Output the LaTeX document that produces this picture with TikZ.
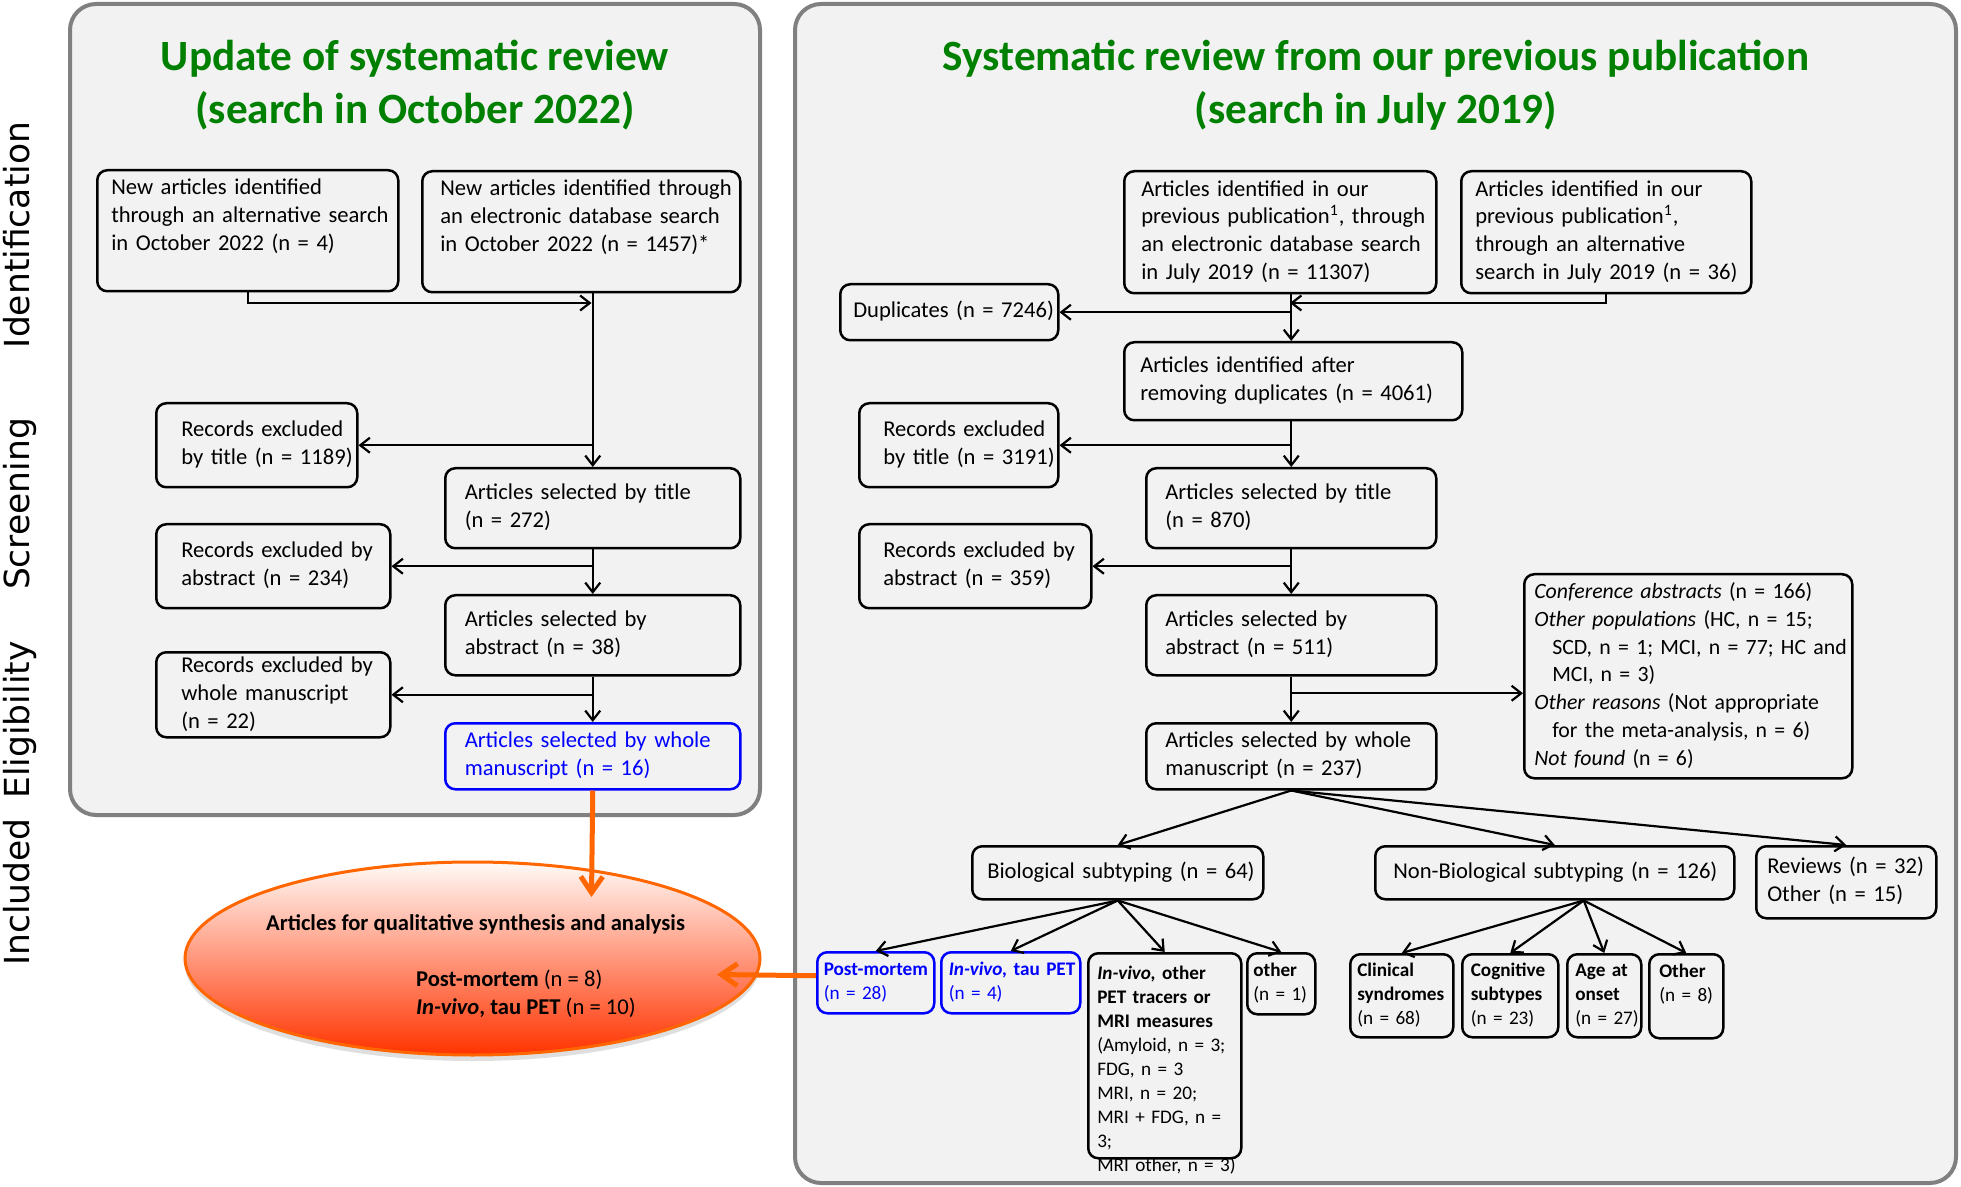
\documentclass[tikz,border=0pt]{standalone}
\usepackage{fontspec}
\setmainfont{Carlito}
\newfontfamily\stagefont{DejaVu Sans}
\usetikzlibrary{arrows.meta,shapes.geometric,shadows}
\definecolor{pfill}{RGB}{242,242,242}
\definecolor{pborder}{RGB}{128,128,128}
\definecolor{tgreen}{RGB}{0,128,0}
\definecolor{oline}{RGB}{255,102,0}
\definecolor{ebottom}{RGB}{255,51,0}
\definecolor{emid}{RGB}{255,165,125}
\definecolor{etop}{RGB}{255,250,247}
\newdimen\px \px=0.5pt
\newdimen\bxw \newdimen\bxh
\newcommand\msize{\fontsize{11.3}{13.9}\selectfont}
\newcommand\csize{\fontsize{10.9}{13.9}\selectfont}
\newcommand\ssize{\fontsize{9.6}{12}\selectfont}
\newcommand\tlines[2][c]{\begin{tabular}[#1]{@{}l@{}}#2\end{tabular}}
% opts, name, x, y, w, h, pad(pt), text
\newcommand\bnode[8][]{%
  \bxw=\dimexpr#5\px-#7pt*2\relax
  \bxh=#6\px
  \node[bx,#1,inner xsep=#7pt,text width=\bxw,minimum height=\bxh] (#2) at (#3,#4) {#8};}
\tikzset{
 panel/.style={draw=pborder, fill=pfill, line width=2pt, rounded corners=13pt},
 bx/.style={draw, line width=1.25pt, rounded corners=5pt, anchor=north west, inner ysep=0pt, font=\msize, align=left},
 bbx/.style={draw=blue, text=blue},
 sm/.style={font=\ssize},
 cf/.style={font=\csize},
 ttl/.style={font=\fontsize{21.6}{26.5}\selectfont\bfseries, text=tgreen, align=center, inner sep=0pt},
 stage/.style={rotate=90, anchor=base, font=\stagefont\fontsize{17.25}{20}\selectfont, inner sep=0pt},
 arr/.style={-{Straight Barb[length=4.8pt,width=7.5pt]}, line width=1.1pt},
 oarr/.style={-{Straight Barb[length=8pt,width=11pt]}, line width=2.5pt, draw=oline},
 ellsty/.style={ellipse, draw=oline, line width=1.5pt, top color=etop, middle color=emid, bottom color=ebottom, minimum width=287.5pt, minimum height=96.5pt, inner sep=0pt, drop shadow={shadow xshift=0pt, shadow yshift=-3pt, opacity=0.25}},
}
\begin{document}
\begin{tikzpicture}[x=0.5pt,y=-0.5pt]
\useasboundingbox (0,0) rectangle (1961,1187);
\fill[white] (0,0) rectangle (1961,1187);
% panels
\draw[panel] (70,4) rectangle (760,815);
\draw[panel] (795,4) rectangle (1956,1183);
% titles
\node[ttl] (t1) at (415,85) {Update of systematic review\\(search in October 2022)};
\node[ttl] (t2) at (1376,85) {Systematic review from our previous publication\\(search in July 2019)};
% stage labels
\node[stage] (s1) at (29,235) {Identification};
\node[stage] (s2) at (29,504) {Screening};
\node[stage] (s3) at (29,720) {Eligibility};
\node[stage] (s4) at (29,892) {Included};
% left panel boxes
\bnode{newalt}{96}{169}{301}{121}{7}{\tlines{New articles identified\\through an alternative search\\in October 2022 (n = 4)\\~}}
\bnode{newdb}{421}{170}{318}{121}{9}{\tlines{New articles identified through\\an electronic database search\\in October 2022 (n = 1457)*\\~}}
\bnode{exT}{155}{402}{201}{84}{12.5}{\tlines{Records excluded\\by title (n = 1189)}}
\bnode{selT}{444}{467}{295}{80}{9.75}{\tlines{Articles selected by title\\(n = 272)}}
\bnode{exA}{155}{523}{234}{84}{12.5}{\tlines{Records excluded by\\abstract (n = 234)}}
\bnode{selA}{444}{594}{295}{80}{9.75}{\tlines{Articles selected by\\abstract (n = 38)}}
\bnode{exW}{155}{651}{234}{85}{12.5}{\tlines{Records excluded by\\whole manuscript\\(n = 22)}}
\bnode[bbx]{selW}{444}{722}{295}{66}{9.75}{\tlines{Articles selected by whole\\manuscript (n = 16)}}
% right panel boxes
\bnode{r1}{1123}{170}{312}{122}{8.5}{\tlines{Articles identified in our\\previous publication\textsuperscript{1}, through\\an electronic database search\\in July 2019 (n = 11307)}}
\bnode{r2}{1460}{170}{290}{122}{7}{\tlines{Articles identified in our\\previous publication\textsuperscript{1},\\through an alternative\\search in July 2019 (n = 36)}}
\bnode{dup}{839}{283}{218}{56}{6.5}{\tlines{Duplicates (n = 7246)}}
\bnode{rdd}{1123}{341}{338}{78}{8}{\tlines{Articles identified after\\removing duplicates (n = 4061)}}
\bnode{rexT}{858}{402}{199}{84}{12}{\tlines{Records excluded\\by title (n = 3191)}}
\bnode{rselT}{1145}{467}{290}{80}{9.5}{\tlines{Articles selected by title\\(n = 870)}}
\bnode{rexA}{858}{523}{232}{84}{12}{\tlines{Records excluded by\\abstract (n = 359)}}
\bnode{rselA}{1145}{594}{290}{80}{9.5}{\tlines{Articles selected by\\abstract (n = 511)}}
\bnode[cf]{conf}{1523}{573}{328}{204}{5}{\tlines{\textit{Conference abstracts} (n = 166)\\
\textit{Other populations} (HC, n = 15;\\
\hspace*{9pt}SCD, n = 1; MCI, n = 77; HC and\\
\hspace*{9pt}MCI, n = 3)\\
\textit{Other reasons} (Not appropriate\\
\hspace*{9pt}for the meta-analysis, n = 6)\\
\textit{Not found} (n = 6)}}
\bnode{rselW}{1145}{722}{290}{66}{9.5}{\tlines{Articles selected by whole\\manuscript (n = 237)}}
\bnode{bio}{971}{845}{291}{53}{7.5}{\tlines{Biological subtyping (n = 64)}}
\bnode{nonbio}{1374}{845}{359}{53}{9}{\tlines{Non-Biological subtyping (n = 126)}}
\bnode{rev}{1755}{845}{180}{72}{5.5}{\tlines{Reviews (n = 32)\\Other (n = 15)}}
\bnode[bbx,sm]{pm}{816}{951}{117}{61}{3.25}{\tlines{\textbf{Post-mortem}\\(n = 28)}}
\bnode[bbx,sm]{tau}{940}{951}{139}{61}{3.75}{\tlines{\textbf{\textit{In-vivo,} tau PET}\\(n = 4)}}
\bnode[sm]{oth}{1087}{952}{153}{205}{4.5}{\raisebox{0pt}[13pt][89.5pt]{\tlines[t]{\textbf{\textit{In-vivo,} other}\\\textbf{PET tracers or}\\\textbf{MRI measures}\\(Amyloid, n = 3;\\FDG, n = 3\\MRI, n = 20;\\MRI + FDG, n =\\3;\\MRI other, n = 3)}}}
\bnode[sm]{othr}{1246}{952}{68}{61}{3}{\tlines{\textbf{other}\\(n = 1)}}
\bnode[sm]{cs}{1349}{953}{103}{83}{3.5}{\tlines{\textbf{Clinical}\\\textbf{syndromes}\\(n = 68)}}
\bnode[sm]{cog}{1461}{953}{96}{83}{4.25}{\tlines{\textbf{Cognitive}\\\textbf{subtypes}\\(n = 23)}}
\bnode[sm]{age}{1566}{953}{74}{83}{4}{\tlines{\textbf{Age at}\\\textbf{onset}\\(n = 27)}}
\bnode[sm]{oth8}{1648}{953}{74}{84}{5}{\tlines{\textbf{Other}\\(n = 8)\\~}}
% ellipse
\node[ellsty] (ell) at (472.5,958.5) {};
\node[font=\msize, inner sep=0pt] (ellt) at ([xshift=1.5pt,yshift=-4.25pt]ell.center) {\begin{tabular}{@{}l@{}}\multicolumn{1}{@{}c@{}}{\textbf{Articles for qualitative synthesis and analysis}}\\ ~\\ \hspace*{75pt}\textbf{Post-mortem} (n = 8)\\ \hspace*{75pt}\textbf{\textit{In-vivo}, tau PET} (n = 10)\end{tabular}};
% left connectors
\coordinate (jL) at (591.5,303);
\draw[arr] (newalt.south) |- (jL);
\draw[arr] (newdb.south -| selT.north) -- (selT.north);
\draw[arr] (selT.north |- exT.east) -- (exT.east);
\draw[arr] (selT.south) -- (selA.north);
\draw[arr] (selA.north |- exA.east) -- (exA.east);
\draw[arr] (selA.south) -- (selW.north);
\draw[arr] (selW.north |- exW.east) -- (exW.east);
% right connectors
\coordinate (jR) at (1290,303);
\draw[arr] (r1.south -| rselT.north) -- (rdd.north -| rselT.north);
\draw[arr] (r2.south) |- (jR);
\draw[arr] (rselT.north |- dup.east) -- (dup.east);
\draw[arr] (rdd.south -| rselT.north) -- (rselT.north);
\draw[arr] (rselT.north |- rexT.east) -- (rexT.east);
\draw[arr] (rselT.south) -- (rselA.north);
\draw[arr] (rselA.north |- rexA.east) -- (rexA.east);
\draw[arr] (rselA.south) -- (rselW.north);
\coordinate (cw) at ([yshift=-8.5pt]conf.west);
\draw[arr] (rselA.south |- cw) -- (cw);
\draw[arr] (rselW.south) -- (bio.north);
\draw[arr] (rselW.south) -- (nonbio.north);
\draw[arr] (rselW.south) -- (rev.north);
\draw[arr] (bio.south) -- (pm.north);
\draw[arr] (bio.south) -- (tau.north);
\draw[arr] (bio.south) -- (oth.north);
\draw[arr] (bio.south) -- (othr.north);
\coordinate (nb) at ([xshift=14.5pt]nonbio.south);
\draw[arr] (nb) -- (cs.north);
\draw[arr] (nb) -- (cog.north);
\draw[arr] (nb) -- (age.north);
\draw[arr] (nb) -- (oth8.north);
% orange connectors
\coordinate (oa1) at (591.5,897);
\coordinate (oa2) at (717,974.5);
\draw[oarr] (selW.south) -- (oa1);
\draw[oarr] ([yshift=3.5pt]pm.west) -- (oa2);
\end{tikzpicture}
\end{document}
